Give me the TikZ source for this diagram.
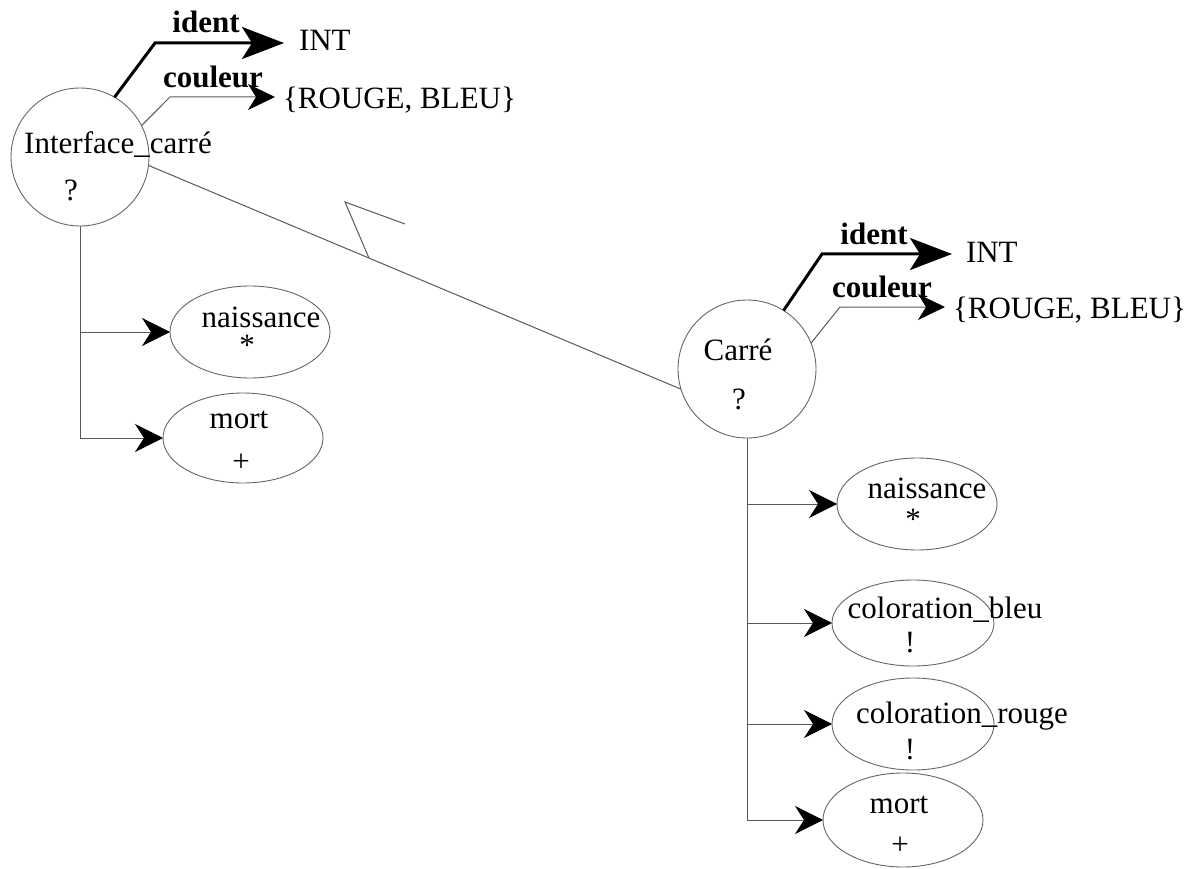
\documentclass[tikz,border=0pt]{standalone}
\usepackage{fontspec}
\setmainfont{Liberation Serif}
\usetikzlibrary{arrows.meta,calc,shapes.geometric}
\begin{document}
\begin{tikzpicture}[x=1pt,y=-1pt,
  every node/.style={inner sep=0pt,outer sep=0pt,font=\fontsize{31}{36}\selectfont},
  bubble/.style={circle,draw=black!60,line width=0.9pt,minimum size=138pt},
  oval/.style={ellipse,draw=black!60,line width=0.9pt},
  lbl/.style={font=\fontsize{31}{36}\selectfont\bfseries},
  thinline/.style={draw=black!65,line width=1pt},
  thickline/.style={draw=black,line width=3pt},
  bigtip/.style={-{Stealth[length=42pt,width=32pt,inset=10pt,color=black]}},
  midtip/.style={-{Stealth[length=27pt,width=26pt,inset=8pt,color=black]}},
  branchtip/.style={-{Stealth[length=28pt,width=28pt,inset=9pt,color=black]}},
]
\useasboundingbox (0,0) rectangle (1200,869);

% ---------- Interface_carre ----------
\node[bubble] (ic) at (80,157) {};
\node (ictxt) at (118,145) {Interface\_carré};
\node (icq) at (71,190) {?};

\coordinate (icA) at (155,43);
\coordinate (icAend) at (284,43);
\node[anchor=base west] (icint) at (299,51) {INT};
\draw[thickline,bigtip] (ic.60) -- (icA) -- (icAend);
\node[lbl,anchor=base] (icid) at (206,33) {ident};

\coordinate (icB) at (170,97);
\coordinate (icBend) at (275,97);
\node[anchor=base west] (icset) at (283,109) {\{ROUGE, BLEU\}};
\draw[thinline,midtip] (ic.27) -- (icB) -- (icBend);
\node[lbl,anchor=base] (iccol) at (213,88) {couleur};

% children
\node[oval,minimum width=160pt,minimum height=92pt] (in1) at (250,332) {};
\node[anchor=base] (in1t) at (261,327) {naissance};
\node (in1s) at (247,345) {*};
\node[oval,minimum width=160pt,minimum height=90pt] (im1) at (243,438) {};
\node[anchor=base] (im1t) at (239,428) {mort};
\node (im1s) at (241,463) {+};
\draw[thinline,branchtip] (ic.south) |- (in1.west);
\draw[thinline,branchtip] (ic.south) |- (im1.west);

% ---------- Carre ----------
\node[bubble] (cc) at (747,369) {};
\node (cctxt) at (738,350) {Carré};
\node (ccq) at (739,399) {?};

\coordinate (ccA) at (822,254);
\coordinate (ccAend) at (952,254);
\node[anchor=base west] (ccint) at (966,262) {INT};
\draw[thickline,bigtip] (cc.58) -- (ccA) -- (ccAend);
\node[lbl,anchor=base] (ccid) at (874,245) {ident};

\coordinate (ccB) at (840,307);
\coordinate (ccBend) at (945,307);
\node[anchor=base west] (ccset) at (953,319) {\{ROUGE, BLEU\}};
\draw[thinline,midtip] (cc.22) -- (ccB) -- (ccBend);
\node[lbl,anchor=base] (cccol) at (882,298) {couleur};

% children
\node[oval,minimum width=160pt,minimum height=92pt] (cn1) at (917,504) {};
\node[anchor=base] (cn1t) at (927,498) {naissance};
\node (cn1s) at (913,519) {*};
\node[oval,minimum width=162pt,minimum height=86pt] (cb) at (913,623) {};
\node[anchor=base] (cbt) at (945,618) {coloration\_bleu};
\node (cbs) at (910,643) {!};
\node[oval,minimum width=162pt,minimum height=92pt] (cr) at (913,724) {};
\node[anchor=base] (crt) at (962,723) {coloration\_rouge};
\node (crs) at (910,750) {!};
\node[oval,minimum width=160pt,minimum height=94pt] (cm) at (903,820) {};
\node[anchor=base] (cmt) at (899,813) {mort};
\node (cms) at (900,846) {+};
\draw[thinline,branchtip] (cc.south) |- (cn1.west);
\draw[thinline,branchtip] (cc.south) |- (cb.west);
\draw[thinline,branchtip] (cc.south) |- (cr.west);
\draw[thinline,branchtip] (cc.south) |- (cm.west);

% ---------- link with zigzag mark ----------
\draw[thinline] (ic.-7) -- (cc.197);
\coordinate (z0) at ($(ic.-7)!0.414!(cc.197)$);
\coordinate (z1) at (345,202);
\coordinate (z2) at (405,224);
\draw[thinline] (z0) -- (z1) -- (z2);
\end{tikzpicture}
\end{document}
